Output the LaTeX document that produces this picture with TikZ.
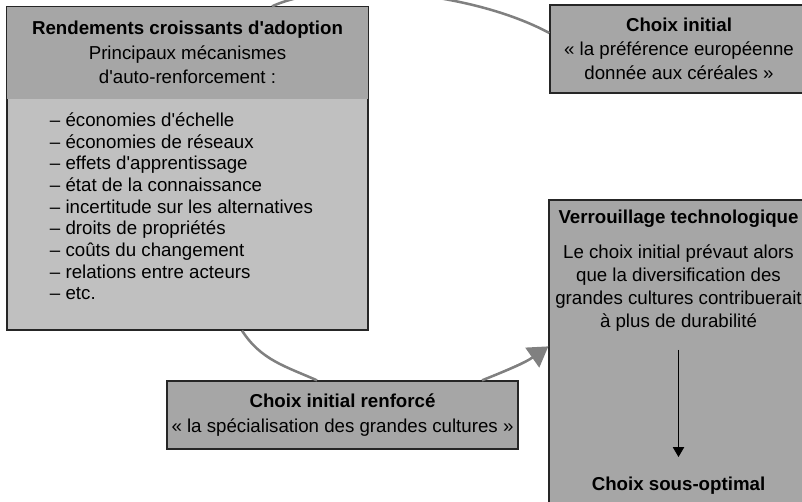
\documentclass[tikz,border=0pt]{standalone}
\usepackage{fontspec}
\setmainfont{Liberation Sans}[Ligatures=TeXOff]
\usepackage{xcolor}
\usetikzlibrary{arrows.meta, positioning}
\definecolor{boxgray}{RGB}{166,166,166}
\definecolor{listgray}{RGB}{192,192,192}
\definecolor{curve}{RGB}{128,128,128}
\definecolor{frame}{RGB}{38,38,38}

\begin{document}
\begin{tikzpicture}[
  box/.style={draw=frame,line width=0.9pt,fill=boxgray,align=center,
              font=\fontsize{13.3}{17}\selectfont,inner sep=0pt},
  head/.style={fill=boxgray,align=center,font=\fontsize{13.3}{17.4}\selectfont,inner sep=0pt},
  lst/.style={align=left,font=\fontsize{13.3}{15.4}\selectfont,inner sep=0pt},
  txt/.style={align=center,font=\fontsize{13.3}{16.4}\selectfont,inner sep=0pt},
  arc/.style={draw=curve,line width=1.8pt},
  arr/.style={-{Triangle[length=7pt,width=8pt]},line width=0.7pt}
]
\useasboundingbox (0,0) rectangle (20.05,-12.55);
\clip (0,0) rectangle (20.05,-12.55);

% left box: header + list
\node[box,fill=listgray,minimum width=9.025cm,minimum height=8.075cm] (rend) at (4.6875,-4.2125) {};
\node[head,minimum width=9.025cm,minimum height=2.3cm,anchor=north] (rendh) at (rend.north)
  {\textbf{Rendements croissants d'adoption}\\Principaux mécanismes\\d'auto-renforcement :};
\node[lst,anchor=north west] (rendl) at ([xshift=1.075cm,yshift=-0.34cm]rendh.south west)
  {– économies d'échelle\\– économies de réseaux\\– effets d'apprentissage\\– état de la connaissance\\
   – incertitude sur les alternatives\\– droits de propriétés\\– coûts du changement\\
   – relations entre acteurs\\– etc.};
\draw[draw=frame,line width=0.9pt] (rend.north west) rectangle (rend.south east);

% other boxes
\node[box,minimum width=6.45cm,minimum height=2.2cm] (init) at (16.975,-1.225)
  {\textbf{Choix initial}\\« la préférence européenne\\donnée aux céréales »};
\node[box,minimum width=8.775cm,minimum height=1.7cm,font=\fontsize{13.3}{17.8}\selectfont] (renf) at (8.5625,-10.375)
  {\textbf{Choix initial renforcé}\\« la spécialisation des grandes cultures »};
\node[box,minimum width=6.475cm,minimum height=8cm] (verr) at (16.9625,-9.0) {};
\node[txt,anchor=north] (verrt) at ([yshift=-0.25cm]verr.north)
  {\textbf{Verrouillage technologique}\\[8.5pt]Le choix initial prévaut alors\\que la diversification des\\
   grandes cultures contribuerait\\à plus de durabilité};
\node[txt] (subopt) at (16.9625,-12.15) {\textbf{Choix sous-optimal}};

\draw[arr,shorten <=0.46cm,shorten >=0.5cm] (verrt) -- (subopt);

% loop
\draw[arc] ([xshift=2.1125cm]rend.north) .. controls +(1.45,0.675) and +(-2.0,1.075) .. ([yshift=0.4cm]init.west);
\draw[arc] ([xshift=1.3625cm]rend.south) to[out=-57,in=156] ([xshift=-0.6375cm]renf.north);
\draw[arc,-{Triangle[length=14pt,width=17pt]},fill=curve] ([xshift=3.4875cm]renf.north)
  to[out=22,in=-145] ([yshift=-3.675cm]verr.north west);
\end{tikzpicture}
\end{document}
